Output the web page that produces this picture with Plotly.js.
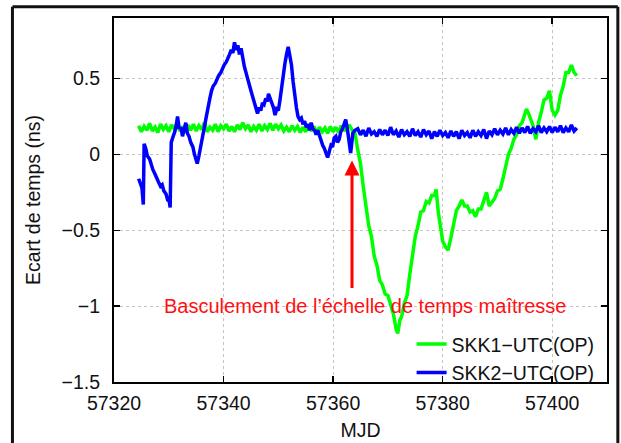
<!DOCTYPE html>
<html>
<head>
<meta charset="utf-8">
<script src="https://cdn.plot.ly/plotly-3.0.1.min.js"></script>
<style>
html,body{margin:0;padding:0;background:#fff;}
#chart{width:621px;height:443px;}
</style>
</head>
<body>
<div id="chart"></div>
<script>
// ---- Data ----
const SERIES_NAMES = ['SKK1\u2212UTC(OP)', 'SKK2\u2212UTC(OP)'];

// SKK1 - UTC(OP)  (green)
const G_MJD = [57324.5,57325,57325.5,57326,57326.5,57327,57327.5,57328,57328.5,57329,57329.5,57330,57330.5,57331,57331.5,57332,57332.5,57333,57333.5,57334,
57334.5,57335,57335.5,57336,57336.5,57337,57337.5,57338,57338.5,57339,57339.5,57340,57340.5,57341,57341.5,57342,57342.5,57343,57343.5,57344,
57344.5,57345,57345.5,57346,57346.5,57347,57347.5,57348,57348.5,57349,57349.5,57350,57350.5,57351,57351.5,57352,57352.5,57353,57353.5,57354,
57354.5,57355,57355.5,57356,57356.5,57357,57357.5,57358,57358.5,57359,57359.5,57360,57360.5,57361,57361.5,57362,57362.5,
57363,57363.5,57364,57364.5,57365,57365.5,57366,57366.5,57367,57367.5,
57368,57368.5,57369,57369.5,57370,57370.5,57371,57371.5,57371.8,57372.2,
57372.5,57373,57373.5,57374,57374.5,57375,57375.5,57376,57376.5,57377,
57377.5,57378,57378.5,57378.8,57379.2,57379.5,57380,57380.5,57381,57381.5,
57382,57382.5,57383,57383.5,57384,57384.5,57385,57385.5,57386,57386.5,
57387,57387.5,57388,57388.5,57389,57389.5,57390,57390.5,57391,57391.5,
57392,57392.5,57393,57393.5,57394,57394.5,57395,57395.3,57395.8,57396.5,
57397,57397.5,57398,57398.5,57399,57399.5,57400,57400.5,57401,57401.5,
57402,57402.5,57403,57403.5,57404,57404.5];
const G_VAL = [0.19,0.15,0.185,0.16,0.205,0.155,0.18,0.145,0.20,0.165,0.19,0.15,0.195,0.17,0.205,0.155,0.185,0.145,0.195,0.16,
0.20,0.155,0.19,0.165,0.21,0.15,0.18,0.16,0.20,0.15,0.19,0.17,0.20,0.155,0.185,0.15,0.195,0.165,0.21,0.17,
0.195,0.15,0.185,0.16,0.20,0.155,0.19,0.165,0.205,0.16,0.20,0.17,0.195,0.155,0.18,0.15,0.19,0.16,0.185,0.145,
0.18,0.15,0.19,0.155,0.185,0.14,0.18,0.15,0.175,0.14,0.185,0.15,0.18,0.145,0.19,0.155,0.185,
0.19,0.16,0.14,0.03,-0.06,-0.21,-0.33,-0.47,-0.54,-0.67,
-0.73,-0.83,-0.86,-0.92,-0.93,-1.0,-1.05,-1.15,-1.18,-1.09,
-1.07,-0.98,-0.93,-0.79,-0.67,-0.54,-0.47,-0.38,-0.37,-0.31,
-0.32,-0.27,-0.27,-0.23,-0.38,-0.44,-0.57,-0.61,-0.63,-0.55,
-0.47,-0.37,-0.34,-0.30,-0.34,-0.34,-0.38,-0.37,-0.41,-0.36,
-0.36,-0.30,-0.25,-0.34,-0.31,-0.29,-0.24,-0.23,-0.16,-0.09,
0.0,0.04,0.10,0.13,0.19,0.21,0.28,0.30,0.26,0.19,
0.10,0.21,0.28,0.36,0.37,0.42,0.29,0.26,0.29,0.39,
0.45,0.54,0.54,0.59,0.54,0.52];

// SKK2 - UTC(OP)  (blue)
const B_MJD = [57324.5,57324.8,57325.1,57325.35,57325.5,57325.8,57326.1,57326.5,57326.8,57327.1,
57327.5,57327.8,57328.1,57328.5,57328.8,57329.1,57329.5,57329.8,57330.1,57330.25,
57330.45,57330.8,57331.1,57331.4,57331.6,57331.9,57332.2,57332.5,57332.8,57333.1,
57333.4,57333.7,57334.0,57334.4,57334.7,57335.0,57335.2,57335.5,57335.8,57336.1,
57336.5,57336.8,57337.1,57337.5,57337.8,57338.1,57338.5,57338.8,57339.1,57339.5,
57339.8,57340.1,57340.5,57340.8,57341.1,57341.4,57341.7,57342.0,57342.3,57342.6,
57342.9,57343.2,57343.5,57343.8,57344.1,57344.4,57344.7,57345.0,57345.3,57345.6,
57345.9,57346.2,57346.5,57346.8,57347.1,57347.4,57347.7,57348.0,57348.2,57348.5,
57348.8,57349.1,57349.4,57349.7,57350.0,57350.3,57350.6,57350.9,57351.2,57351.5,
57351.8,57352.1,57352.4,57352.7,57353.0,57353.3,57353.6,57353.9,57354.2,57354.5,
57354.8,57355.1,57355.4,57355.7,57356.0,57356.3,57356.6,57356.9,57357.2,57357.5,
57357.8,57358.1,57358.4,57358.7,57359.0,57359.3,57359.6,57359.9,57360.2,57360.5,
57360.8,57361.1,57361.4,57361.7,57362.0,57362.3,57362.6,57362.9,57363.2,57363.6,
57364.0,
57364.5,57365,57365.5,57366,57366.5,57367,57367.5,57368,57368.5,57369,
57369.5,57370,57370.5,57371,57371.5,57372,57372.5,57373,57373.5,57374,
57374.5,57375,57375.5,57376,57376.5,57377,57377.5,57378,57378.5,57379,
57379.5,57380,57380.5,57381,57381.5,57382,57382.5,57383,57383.5,57384,
57384.5,57385,57385.5,57386,57386.5,57387,57387.5,57388,57388.5,57389,
57389.5,57390,57390.5,57391,57391.5,57392,57392.5,57393,57393.5,57394,
57394.5,57395,57395.5,57396,57396.5,57397,57397.5,57398,57398.5,57399,
57399.5,57400,57400.5,57401,57401.5,57402,57402.5,57403,57403.5,57404,
57404.5];
const B_VAL = [-0.16,-0.20,-0.22,-0.33,0.07,0.04,-0.01,-0.03,-0.07,-0.10,
-0.13,-0.16,-0.18,-0.21,-0.20,-0.24,-0.26,-0.30,-0.31,-0.35,
0.08,0.12,0.15,0.20,0.25,0.17,0.18,0.12,0.16,0.21,
0.14,0.12,0.08,0.05,0.00,-0.03,-0.06,-0.01,0.04,0.11,
0.18,0.24,0.31,0.37,0.42,0.45,0.47,0.50,0.52,0.54,
0.57,0.59,0.61,0.63,0.66,0.69,0.67,0.74,0.69,0.72,
0.66,0.70,0.63,0.58,0.54,0.49,0.46,0.42,0.38,0.33,
0.31,0.27,0.31,0.29,0.34,0.33,0.37,0.35,0.40,0.36,
0.34,0.31,0.26,0.30,0.29,0.36,0.45,0.54,0.60,0.66,
0.71,0.65,0.59,0.48,0.38,0.31,0.25,0.23,0.24,0.20,
0.22,0.18,0.20,0.16,0.21,0.17,0.16,0.13,0.16,0.12,
0.09,0.06,0.04,0.01,-0.02,0.02,0.06,0.05,0.11,0.12,
0.08,0.10,0.15,0.17,0.21,0.23,0.17,0.08,0.01,0.14,
0.16,
0.17,0.13,0.16,0.12,0.175,0.135,0.15,0.12,0.165,0.13,
0.16,0.125,0.18,0.13,0.155,0.115,0.165,0.13,0.15,0.12,
0.17,0.125,0.15,0.115,0.165,0.13,0.155,0.105,0.15,0.12,
0.16,0.125,0.145,0.11,0.155,0.12,0.15,0.105,0.16,0.125,
0.145,0.11,0.16,0.12,0.15,0.125,0.165,0.105,0.155,0.13,
0.17,0.13,0.16,0.135,0.175,0.13,0.165,0.14,0.18,0.14,
0.175,0.145,0.185,0.14,0.17,0.15,0.19,0.145,0.175,0.15,
0.185,0.145,0.18,0.15,0.19,0.145,0.175,0.15,0.195,0.155,
0.175];

// Annotation: switch of master time scale
const SWITCH_MJD = 57363.45;
const ARROW_FROM = -0.89;
const ARROW_TO = -0.04;
const NOTE_TEXT = 'Basculement de l\u2019\u00e9chelle de temps ma\u00eetresse';
const NOTE_MJD = 57365.9;
const NOTE_VAL = -1.0;

const X_TICKS = [57320, 57340, 57360, 57380, 57400];
const Y_TICKS = [-1.5, -1, -0.5, 0, 0.5];

// ---- Plot ----
const FONT = 'Liberation Sans, Arimo, Arial, Helvetica, sans-serif';
const FS = 19.5;

const traces = [
  {x: G_MJD, y: G_VAL, name: SERIES_NAMES[0], type: 'scatter', mode: 'lines',
   line: {color: '#00ff00', width: 3.5}},
  {x: B_MJD, y: B_VAL, name: SERIES_NAMES[1], type: 'scatter', mode: 'lines',
   line: {color: '#0000ff', width: 3.5}}
];

const axisCommon = {
  ticks: 'inside', ticklen: 6, tickwidth: 1.5, tickcolor: '#000',
  showline: true, linecolor: '#000', linewidth: 2, mirror: 'ticks',
  showgrid: true, gridcolor: '#c4c4c4', griddash: 'dot', gridwidth: 1,
  zeroline: false,
  tickfont: {family: FONT, size: FS, color: '#111'}
};

const layout = {
  width: 621, height: 443,
  margin: {l: 114, r: 14, t: 18, b: 61, pad: 0},
  paper_bgcolor: '#fff', plot_bgcolor: '#fff',
  font: {family: FONT, size: FS, color: '#111'},
  xaxis: Object.assign({}, axisCommon, {
    range: [57320, 57410], tickvals: X_TICKS,
    ticktext: X_TICKS.map(String),
    ticklabelstandoff: 3,
    title: {text: 'MJD', font: {family: FONT, size: FS, color: '#111'}, standoff: 10}
  }),
  yaxis: Object.assign({}, axisCommon, {
    range: [-1.5, 0.9], tickvals: Y_TICKS,
    ticklabelstandoff: 8,
    title: {text: 'Ecart de temps (ns)', font: {family: FONT, size: FS, color: '#111'}, standoff: 16}
  }),
  showlegend: true,
  legend: {
    x: 0.985, xanchor: 'right', y: 0.157, yanchor: 'top',
    bgcolor: 'rgba(0,0,0,0)', borderwidth: 0,
    font: {family: FONT, size: FS, color: '#111'},
    tracegroupgap: 0, itemwidth: 30
  },
  annotations: [
    {x: SWITCH_MJD, y: ARROW_TO, ax: SWITCH_MJD, ay: ARROW_FROM,
     xref: 'x', yref: 'y', axref: 'x', ayref: 'y',
     text: '', showarrow: true, arrowhead: 2, arrowsize: 1, arrowwidth: 3, arrowcolor: '#ff0000'},
    {x: NOTE_MJD, y: NOTE_VAL, xref: 'x', yref: 'y', text: NOTE_TEXT, showarrow: false,
     xanchor: 'center', yanchor: 'middle',
     font: {family: FONT, size: 20, color: '#ff1010'}}
  ],
  shapes: [
    {type: 'line', xref: 'paper', yref: 'paper', x0: -0.206, x1: -0.206, y0: -0.3, y1: 1.031,
     line: {color: '#111', width: 3}},
    {type: 'line', xref: 'paper', yref: 'paper', x0: -0.206, x1: 1.022, y0: 1.031, y1: 1.031,
     line: {color: '#111', width: 3}},
    {type: 'line', xref: 'paper', yref: 'paper', x0: 1.022, x1: 1.022, y0: -0.3, y1: 1.031,
     line: {color: '#111', width: 3}}
  ]
};

Plotly.newPlot('chart', traces, layout, {displayModeBar: false, staticPlot: true});
</script>
</body>
</html>
